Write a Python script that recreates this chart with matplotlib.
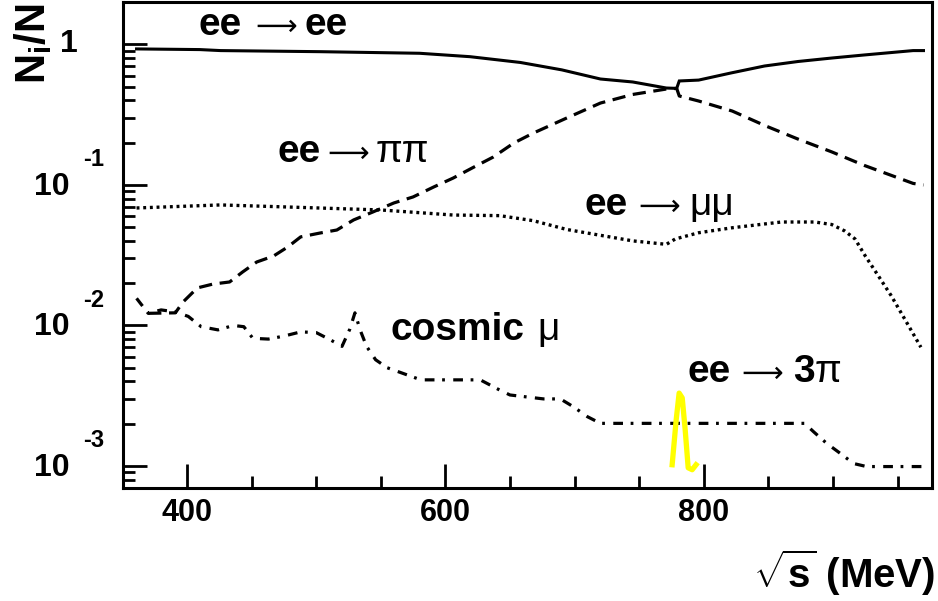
import matplotlib
matplotlib.use('Agg')
import matplotlib.pyplot as plt
from matplotlib.ticker import FixedLocator, MultipleLocator, LogLocator, NullFormatter
from matplotlib.transforms import offset_copy

plt.rcParams['font.family'] = ['Liberation Sans', 'DejaVu Sans']
plt.rcParams['mathtext.fontset'] = 'custom'
plt.rcParams['mathtext.rm'] = 'Liberation Sans'
plt.rcParams['mathtext.it'] = 'Liberation Sans:italic'
plt.rcParams['mathtext.bf'] = 'Liberation Sans:bold'
plt.rcParams['lines.scale_dashes'] = False

# fractions N_i/N vs sqrt(s) in MeV
ee_x = [361, 410, 426, 503, 580, 619, 658, 690, 720, 745, 771, 779, 781, 796, 821, 847, 873, 899, 924, 962, 970]
ee_y = [0.93, 0.92, 0.905, 0.889, 0.866, 0.819, 0.745, 0.66, 0.568, 0.541, 0.49, 0.487, 0.55, 0.558,
        0.627, 0.703, 0.757, 0.801, 0.842, 0.905, 0.905]

pipi_x = [370, 391, 397, 408, 420, 433, 443, 454, 467, 478, 488, 503, 516, 529, 544, 560, 575, 591, 606,
          622, 637, 653, 668, 694, 720, 745, 771, 779, 781, 796, 822, 848, 873, 899, 924, 962, 970]
pipi_y = [0.0122, 0.0123, 0.0147, 0.0185, 0.0197, 0.0204, 0.0240, 0.0283, 0.0312, 0.0362, 0.0427, 0.0455,
          0.0478, 0.0564, 0.0643, 0.0744, 0.0822, 0.0968, 0.112, 0.134, 0.158, 0.199, 0.234, 0.30, 0.383,
          0.441, 0.482, 0.487, 0.430, 0.396, 0.336, 0.263, 0.212, 0.172, 0.138, 0.1026, 0.100]

mumu_x = [361, 426, 478, 550, 606, 642, 668, 694, 745, 771, 778, 796, 822, 860, 886, 899, 909, 917, 925,
          935, 945, 956, 968]
mumu_y = [0.0686, 0.0721, 0.0697, 0.0664, 0.0611, 0.0605, 0.0557, 0.0482, 0.040, 0.0378, 0.0413, 0.0457,
          0.0496, 0.0545, 0.0545, 0.0523, 0.0471, 0.0413, 0.0312, 0.0226, 0.0163, 0.0109, 0.0070]

cosm_x = [361, 370, 380, 391, 401, 411, 424, 436, 444, 451, 463, 475, 488, 500, 511, 520, 526, 530, 534,
          539, 546, 555, 566, 581, 604, 627, 642, 650, 676, 689, 699, 710, 720, 878, 885, 895, 904, 916,
          926, 970]
cosm_y = [0.0156, 0.0122, 0.0129, 0.0125, 0.0116, 0.0098, 0.0093, 0.0100, 0.0098, 0.0081, 0.0080, 0.0084,
          0.0090, 0.0089, 0.0079, 0.0071, 0.0094, 0.0123, 0.0093, 0.0071, 0.0057, 0.0050, 0.0046, 0.0041,
          0.0041, 0.0041, 0.00347, 0.0032, 0.0030, 0.0030, 0.00264, 0.00224, 0.00201, 0.00201, 0.00175,
          0.00145, 0.00126, 0.00104, 0.00099, 0.00099]

pi3_x = [775.5, 778.6, 780.9, 783.3, 785.6, 787.9, 791, 794]
pi3_y = [0.00102, 0.00212, 0.0033, 0.00305, 0.0018, 0.00097, 0.00094, 0.00102]

decades = [0, -1, -2, -3]
xticks = [400, 600, 800]

W, H = 938, 601
fig = plt.figure(figsize=(W / 100, H / 100), dpi=100)
ax = fig.add_axes([123 / W, 1 - 488 / H, (932 - 123) / W, (488 - 2) / H])

ax.plot(ee_x, ee_y, color='black', lw=2.2, solid_joinstyle='miter')
ax.plot(pipi_x, pipi_y, color='black', lw=2.3, dashes=(9.5, 5.5), dash_capstyle='butt')
ax.plot(mumu_x, mumu_y, color='black', lw=2.4, dashes=(2.1, 2.7), dash_capstyle='butt')
ax.plot(cosm_x, cosm_y, color='black', lw=2.3, dashes=(7.0, 5.5, 2.0, 6.0), dash_capstyle='butt')
ax.plot(pi3_x, pi3_y, color='#ffff00', lw=3.8, zorder=5)

ax.set_yscale('log')
ax.set_xlim(350.5, 976.6)
ax.set_ylim(10 ** -3.157, 10 ** 0.3025)

ax.xaxis.set_major_locator(FixedLocator(xticks))
ax.xaxis.set_minor_locator(MultipleLocator(50))
ax.yaxis.set_major_locator(LogLocator(base=10))
ax.yaxis.set_minor_locator(LogLocator(base=10, subs=range(2, 10)))
ax.yaxis.set_major_formatter(NullFormatter())
ax.yaxis.set_minor_formatter(NullFormatter())
ax.tick_params(which='both', direction='in', top=False, right=False, width=2.0)
ax.tick_params(which='major', length=17)
ax.tick_params(which='minor', length=8.5)
ax.tick_params(axis='x', which='major', labelsize=22, pad=7)
for lab in ax.get_xticklabels():
    lab.set_fontweight('bold')
for sp in ax.spines.values():
    sp.set_linewidth(2.2)

# ROOT style 10^n labels on the y axis
ytr = ax.get_yaxis_transform()
for d in decades:
    if d == 0:
        ax.text((78 - 123) / 809, 1.0, '1', transform=ytr, ha='right', va='center',
                fontsize=23, fontweight='bold')
        continue
    base = offset_copy(ytr, fig=fig, x=0, y=-2, units='dots')
    ax.text((70 - 123) / 809, 10.0 ** d, '10', transform=base, ha='right', va='center',
            fontsize=23, fontweight='bold', clip_on=False)
    sup = offset_copy(ytr, fig=fig, x=0, y=25, units='dots')
    ax.text((83 - 123) / 809, 10.0 ** d, '%d' % d, transform=sup, ha='left', va='center',
            fontsize=17, fontweight='bold', clip_on=False)

fig.text(33 / W, 1 - 3 / H, r'$\mathbf{N_i/N}$', rotation=90, ha='center', va='top', fontsize=30)
fig.text(935 / W, 1 - 588 / H, r'$\sqrt{\mathbf{s}}$ (MeV)', ha='right', va='baseline',
         fontsize=29, fontweight='bold')


def put(parts, y):
    # each part: (text, left edge px, bold?)
    for s, x, bold in parts:
        if s == '\u27f6':
            fig.text(x / W, 1 - y / H, s, ha='left', va='baseline', fontsize=21,
                     family='DejaVu Sans')
        else:
            fig.text(x / W, 1 - y / H, s, ha='left', va='baseline', fontsize=28,
                     fontweight='bold' if bold else 'normal')


put([('ee', 198, True), ('\u27f6', 255, False), ('ee', 305, True)], 35)
put([('ee', 277, True), ('\u27f6', 327, False), ('\u03c0\u03c0', 376, False)], 162)
put([('ee', 584, True), ('\u27f6', 638, False), ('\u03bc\u03bc', 689, False)], 215)
put([('cosmic', 390, True), ('\u03bc', 537, False)], 340)
put([('ee', 687, True), ('\u27f6', 741, False), ('3', 793, True), ('\u03c0', 815, False)], 382)

fig.savefig('out.png', dpi=100)
